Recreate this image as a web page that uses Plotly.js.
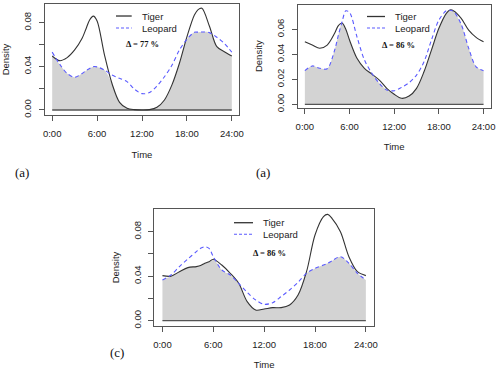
<!DOCTYPE html>
<html>
<head>
<meta charset="utf-8">
<script src="https://cdn.plot.ly/plotly-3.0.1.min.js"></script>
<style>
  html, body { margin: 0; padding: 0; background: #fff; }
  #chart { width: 500px; height: 375px; }
</style>
</head>
<body>
<div id="chart"></div>
<script>
// hour of day, kernel density estimates (extra half hours near the peaks)
const hours = [0,1,2,3,4,4.5,5,5.5,6,7,8,9,10,11,12,13,14,15,16,17,18,19,19.5,20,21,22,23,24];

const tigerA   = [0.0495,0.0452,0.048,0.055,0.0657,0.074,0.0825,0.086,0.0815,0.050,0.024,0.007,0.0015,0.0003,0.0,0.0003,0.0025,0.0092,0.023,0.0428,0.067,0.087,0.092,0.0932,0.077,0.058,0.0534,0.0495];
const leopardA = [0.053,0.042,0.0335,0.030,0.0335,0.036,0.038,0.0397,0.0395,0.0365,0.032,0.029,0.026,0.019,0.015,0.016,0.022,0.0305,0.041,0.055,0.0648,0.0712,0.0713,0.0714,0.0709,0.0666,0.061,0.053];

const tigerB   = [0.050,0.0474,0.0448,0.0474,0.0568,0.063,0.065,0.060,0.0514,0.0368,0.0288,0.0242,0.0194,0.0128,0.008,0.0048,0.0066,0.0128,0.026,0.0434,0.0608,0.0728,0.0755,0.0747,0.0688,0.0594,0.0536,0.050];
const leopardB = [0.0269,0.0307,0.0288,0.0285,0.0434,0.0554,0.066,0.0748,0.0735,0.054,0.0355,0.0248,0.0168,0.0115,0.0109,0.0136,0.0173,0.0234,0.034,0.0514,0.0674,0.0749,0.0752,0.0741,0.064,0.045,0.030,0.0269];

const tigerC   = [0.0405,0.040,0.044,0.0477,0.0486,0.0495,0.0516,0.053,0.0552,0.050,0.0426,0.0336,0.0171,0.0096,0.0105,0.0117,0.0117,0.0141,0.023,0.044,0.077,0.0935,0.0955,0.092,0.080,0.0575,0.044,0.0405];
const leopardC = [0.0366,0.041,0.0486,0.0555,0.062,0.065,0.0665,0.065,0.0575,0.0456,0.041,0.0336,0.0255,0.0186,0.0147,0.0162,0.0216,0.0276,0.0345,0.0426,0.047,0.050,0.0515,0.0537,0.0575,0.0516,0.0426,0.0366];

const overlapText = ['\u0394 = 77 %', '\u0394 = 86 %', '\u0394 = 86 %'];
const panelLabels = ['(a)', '(a)', '(c)'];
const seriesNames = ['Tiger', 'Leopard'];
const timeTicks = [0, 6, 12, 18, 24];
const timeLabels = ['0:00', '6:00', '12:00', '18:00', '24:00'];

const sans = 'Liberation Sans, Arial, sans-serif';
const serif = 'Liberation Serif, Times New Roman, serif';
const boxCol = '#555';
const tigerCol = '#333';
const leopardCol = '#5a5aff';
const leopardDash = '4px,3px';

const panels = [
  {t: tigerA, l: leopardA, xa: 'x',  ya: 'y'},
  {t: tigerB, l: leopardB, xa: 'x2', ya: 'y2'},
  {t: tigerC, l: leopardC, xa: 'x3', ya: 'y3'}
];

const data = [];
panels.forEach(p => {
  const overlap = p.t.map((v, i) => Math.min(v, p.l[i]));
  data.push({
    x: hours, y: overlap, xaxis: p.xa, yaxis: p.ya,
    type: 'scatter', mode: 'lines', fill: 'tozeroy', fillcolor: '#d3d3d3',
    line: {width: 0, shape: 'spline', smoothing: 0.9}, showlegend: false, hoverinfo: 'skip'
  });
  data.push({
    x: [hours[0], hours[hours.length - 1]], y: [0, 0], xaxis: p.xa, yaxis: p.ya,
    type: 'scatter', mode: 'lines', line: {color: '#555', width: 1.3}, showlegend: false
  });
  data.push({
    x: hours, y: p.t, xaxis: p.xa, yaxis: p.ya, name: seriesNames[0], showlegend: false,
    type: 'scatter', mode: 'lines', line: {color: tigerCol, width: 1.1, shape: 'spline', smoothing: 0.9}
  });
  data.push({
    x: hours, y: p.l, xaxis: p.xa, yaxis: p.ya, name: seriesNames[1], showlegend: false,
    type: 'scatter', mode: 'lines', line: {color: leopardCol, width: 1.1, dash: leopardDash, shape: 'spline', smoothing: 0.9}
  });
});

function xAxis(domain, anchor) {
  return {
    domain: domain, anchor: anchor, range: [-0.96, 24.96],
    tickvals: timeTicks, ticktext: timeLabels,
    ticks: 'outside', ticklen: 5, tickcolor: boxCol, ticklabelstandoff: 5,
    showline: true, linecolor: boxCol, mirror: true, showgrid: false, zeroline: false,
    tickfont: {family: sans, size: 9.5, color: '#222'},
    title: {text: 'Time', font: {family: sans, size: 9.5, color: '#222'}, standoff: 12}
  };
}
function yAxis(domain, anchor, range, vals, labels) {
  return {
    domain: domain, anchor: anchor, range: range,
    tickvals: vals, ticktext: labels, tickangle: -90,
    ticks: 'outside', ticklen: 5, tickcolor: boxCol, ticklabelstandoff: 4,
    showline: true, linecolor: boxCol, mirror: true, showgrid: false, zeroline: false,
    tickfont: {family: sans, size: 9.5, color: '#222'},
    title: {text: 'Density', font: {family: sans, size: 9.5, color: '#222'}, standoff: 10}
  };
}

const annotations = [
  {xref: 'x',  yref: 'y',  x: 12,    y: 0.0602, text: overlapText[0]},
  {xref: 'x2', yref: 'y2', x: 12.6,  y: 0.0474, text: overlapText[1]},
  {xref: 'x3', yref: 'y3', x: 12.65, y: 0.0611, text: overlapText[2]}
].map(a => Object.assign(a, {showarrow: false, font: {family: serif, size: 8.5, color: '#111', weight: 'bold'}}));

[[0.025, 0.5387], [0.525, 0.5387], [0.216, 0.0339]].forEach((pos, i) => {
  annotations.push({xref: 'paper', yref: 'paper', x: pos[0], y: pos[1], text: panelLabels[i],
    showarrow: false, font: {family: serif, size: 13, color: '#111'}});
});

// hand-placed legend boxes inside each panel: [lineStart, lineEnd, textX, tigerY, leopardY] in paper units
const legendPos = [
  [0.232, 0.2634, 0.280, 0.9573, 0.9253],
  [0.734, 0.770, 0.7854, 0.956, 0.9253],
  [0.468, 0.506, 0.5226, 0.4061, 0.3752]
];
const shapes = [];
legendPos.forEach(lp => {
  shapes.push({type: 'line', xref: 'paper', yref: 'paper', x0: lp[0], x1: lp[1], y0: lp[3], y1: lp[3],
    line: {color: tigerCol, width: 1.3}});
  shapes.push({type: 'line', xref: 'paper', yref: 'paper', x0: lp[0], x1: lp[1], y0: lp[4], y1: lp[4],
    line: {color: leopardCol, width: 1.1, dash: '3px,2px'}});
  [lp[3], lp[4]].forEach((yy, k) => {
    annotations.push({xref: 'paper', yref: 'paper', x: lp[2], y: yy, xanchor: 'left', yanchor: 'middle',
      text: seriesNames[k], showarrow: false, font: {family: sans, size: 9.5, color: '#222'}});
  });
});

const layout = {
  width: 500, height: 375,
  margin: {l: 0, r: 0, t: 0, b: 0},
  paper_bgcolor: '#fff', plot_bgcolor: '#fff',
  showlegend: false,
  xaxis:  xAxis([0.09, 0.478], 'y'),
  yaxis:  yAxis([0.6933, 0.9893], 'x', [-0.0046, 0.0971], [0, 0.02, 0.04, 0.06, 0.08], ['0.00', '', '0.04', '', '0.08']),
  xaxis2: xAxis([0.5954, 0.9814], 'y2'),
  yaxis2: yAxis([0.7128, 0.9875], 'x2', [-0.0027, 0.0797], [0, 0.02, 0.04, 0.06], ['0.00', '0.02', '0.04', '0.06']),
  xaxis3: xAxis([0.3086, 0.748], 'y3'),
  yaxis3: yAxis([0.1315, 0.4419], 'x3', [-0.0045, 0.1001], [0, 0.02, 0.04, 0.06, 0.08], ['0.00', '', '0.04', '', '0.08']),
  shapes: shapes,
  annotations: annotations
};

Plotly.newPlot('chart', data, layout, {staticPlot: true, displayModeBar: false});
</script>
</body>
</html>
